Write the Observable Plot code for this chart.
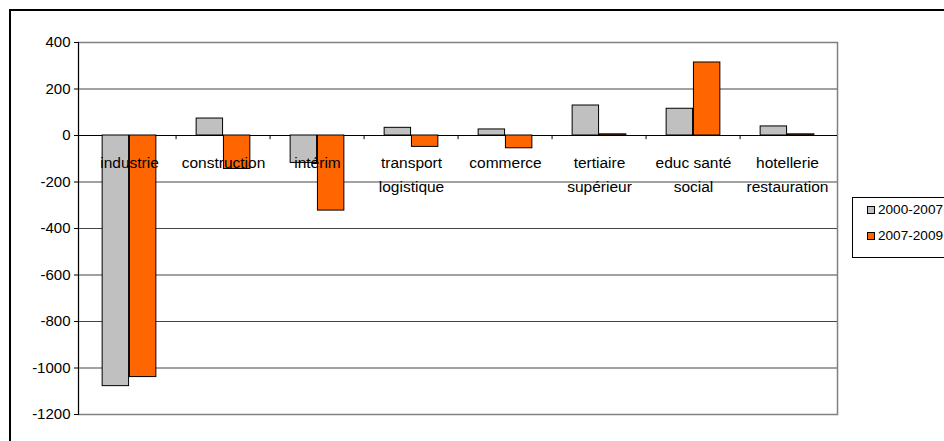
<!DOCTYPE html>
<html>
<head>
<meta charset="utf-8">
<script src="https://cdn.jsdelivr.net/npm/d3@7"></script>
<script src="https://cdn.jsdelivr.net/npm/@observablehq/plot@0.6"></script>
<style>
  html, body { margin: 0; padding: 0; background: #fff; }
  body { width: 944px; height: 441px; position: relative; overflow: hidden; font-family: "Liberation Sans", Arial, sans-serif; }
  #chart { position: absolute; left: 0; top: 0; }
  #outer { position: absolute; left: 9px; top: 9px; right: -10px; bottom: -10px; border-top: 2px solid #000; border-left: 2px solid #000; }
  #legend { position: absolute; left: 852px; top: 197px; width: 92px; height: 61px; border: 1px solid #000; border-right: none; box-sizing: border-box; background: #fff; font-size: 13.6px; color: #000; }
  .item { position: absolute; left: 14px; display: flex; align-items: center; white-space: nowrap; }
  .sw { width: 6px; height: 6px; border: 1px solid #000; margin-right: 3px; }
</style>
</head>
<body>
<div id="outer"></div>
<div id="chart"></div>
<div id="legend"></div>
<script>
const categories = ["industrie", "construction", "intérim", "transport logistique", "commerce", "tertiaire supérieur", "educ santé social", "hotellerie restauration"];
const labels = ["industrie", "construction", "intérim", "transport\nlogistique", "commerce", "tertiaire\nsupérieur", "educ santé\nsocial", "hotellerie\nrestauration"];
const series = ["2000-2007", "2007-2009"];
const values2000_2007 = [-1078, 73, -118, 33, 26, 129, 115, 39];
const values2007_2009 = [-1039, -144, -323, -49, -55, 5, 314, 5];
const yTicks = [-1200, -1000, -800, -600, -400, -200, 0, 200, 400];
const colors = ["#c0c0c0", "#ff6600"];

const data = categories.flatMap((c, i) => [
  {category: c, series: series[0], value: values2000_2007[i]},
  {category: c, series: series[1], value: values2007_2009[i]}
]);

const W = 944, H = 441, mL = 78, mR = 107, mT = 42, mB = 27;
const band = (W - mL - mR) / categories.length;
const barW = 27.3;
const pad = (band - 2 * barW) / 2;

const chart = Plot.plot({
  width: W,
  height: H,
  marginLeft: mL,
  marginRight: mR,
  marginTop: mT,
  marginBottom: mB,
  style: {fontFamily: "'Liberation Sans', Arial, sans-serif", background: "transparent", color: "#000"},
  x: {domain: categories, padding: 0, axis: null},
  y: {domain: [-1200, 400]},
  marks: [
    Plot.ruleY(yTicks, {stroke: "#444", strokeWidth: 1}),
    Plot.frame({stroke: "#808080", strokeWidth: 1.5}),
    Plot.ruleY([0], {stroke: "#000", strokeWidth: 1}),
    Plot.ruleX(categories.slice(1), {x: d => d, y1: 0, y2: -18, dx: -band / 2, stroke: "#000"}),
    Plot.barY(data.filter(d => d.series === series[0]), {x: "category", y: "value", fill: colors[0], stroke: "#000", strokeWidth: 1, insetLeft: pad, insetRight: band - pad - barW}),
    Plot.barY(data.filter(d => d.series === series[1]), {x: "category", y: "value", fill: colors[1], stroke: "#000", strokeWidth: 1, insetLeft: pad + barW, insetRight: pad}),
    Plot.text(categories, {x: d => d, y: 0, text: (d, i) => labels[i], lineAnchor: "top", dy: 15, fontSize: 15.5, lineHeight: 1.55, fill: "#000"}),
    Plot.frame({anchor: "left", stroke: "#000"}),
    Plot.axisY({ticks: yTicks, tickSize: 4, tickPadding: 4, fontSize: 15, label: null, tickFormat: d => String(d)})
  ]
});
document.getElementById("chart").appendChild(chart);

const legend = document.getElementById("legend");
series.forEach((s, i) => {
  const item = document.createElement("div");
  item.className = "item";
  item.style.top = (4 + i * 26) + "px";
  item.innerHTML = `<span class="sw" style="background:${colors[i]}"></span><span>${s}</span>`;
  legend.appendChild(item);
});
</script>
</body>
</html>
